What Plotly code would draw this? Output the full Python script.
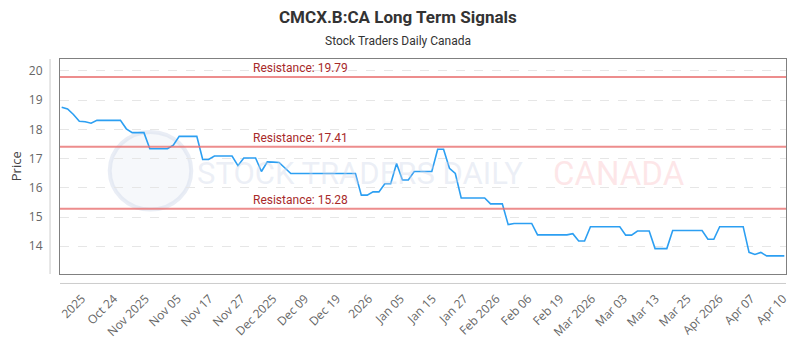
import plotly.graph_objects as go

# ---------------- data ----------------
prices = [
    18.76, 18.70, 18.51, 18.28, 18.26, 18.21,
    18.31, 18.31, 18.31, 18.31, 18.31,
    18.02, 17.89, 17.89, 17.89,
    17.34, 17.34, 17.34, 17.34, 17.46,
    17.76, 17.76, 17.76, 17.76,
    16.97, 16.97, 17.09, 17.09, 17.09, 17.09,
    16.76, 17.02, 17.02, 17.02, 16.56, 16.89, 16.88, 16.87, 16.68,
    16.49, 16.49, 16.49, 16.49, 16.49, 16.49, 16.49, 16.49, 16.49, 16.49, 16.49, 16.49,
    15.75, 15.75, 15.86, 15.86, 16.14, 16.14, 16.83, 16.27, 16.27,
    16.56, 16.56, 16.56, 16.56, 17.32, 17.32, 16.67, 16.49,
    15.65, 15.65, 15.65, 15.65, 15.65,
    15.45, 15.45, 15.45,
    14.74, 14.78, 14.78, 14.78, 14.78,
    14.39, 14.39, 14.39, 14.39, 14.39, 14.39,
    14.43, 14.18, 14.18,
    14.67, 14.67, 14.67, 14.67, 14.67, 14.67,
    14.38, 14.38, 14.52, 14.52, 14.52,
    13.92, 13.92, 13.92,
    14.54, 14.54, 14.54, 14.54, 14.54, 14.54,
    14.24, 14.24,
    14.67, 14.67, 14.67, 14.67, 14.67,
    13.79, 13.72, 13.79, 13.67, 13.67, 13.67, 13.67,
]
resistance_levels = [19.79, 17.41, 15.28]
tick_labels = [
    "2025", "Oct 24", "Nov 2025", "Nov 05", "Nov 17", "Nov 27", "Dec 2025",
    "Dec 09", "Dec 19", "2026", "Jan 05", "Jan 15", "Jan 27", "Feb 2026",
    "Feb 06", "Feb 19", "Mar 2026", "Mar 03", "Mar 13", "Mar 25",
    "Apr 2026", "Apr 07", "Apr 10",
]
y_ticks = [14, 15, 16, 17, 18, 19, 20]

# ---------------- layout helpers ----------------
W, H = 800, 350
L, R, T, B = 60, 10, 59, 64          # plot area 60..790 x 59..286
pw, ph = W - L - R, H - T - B
n = len(prices)
x_idx = list(range(n))


def px_x(px):
    return (px - L) / pw


def px_y(py):
    return ((H - B) - py) / ph


# x range so that point 0 sits at ~61.7px and last point at ~788px
px_per = (788.3 - 61.7) / (n - 1)
x0 = -(61.7 - L) / px_per
x1 = (n - 1) + (W - R - 788.3) / px_per

# evenly spaced tick positions (label positions in the reference)
first_px, step_px = 82.0, 32.05
tickvals = [((first_px + k * step_px) - 61.7) / px_per for k in range(len(tick_labels))]

fig = go.Figure()
fig.add_trace(go.Scatter(
    x=x_idx, y=prices, mode="lines",
    line=dict(color="#2c9ff2", width=1.6),
    hoverinfo="skip", showlegend=False,
))

shapes = []
annotations = []
for lv in resistance_levels:
    shapes.append(dict(type="line", xref="paper", yref="y", x0=0, x1=1, y0=lv, y1=lv,
                       line=dict(color="rgba(232,112,112,0.8)", width=2), layer="above"))
    annotations.append(dict(xref="paper", yref="y", x=px_x(252), y=lv,
                            xanchor="left", yanchor="bottom", yshift=0,
                            text=f"Resistance: {lv:.2f}", showarrow=False,
                            font=dict(family="Roboto", size=12, color="#a82a2a")))

# offset axis lines (light gray) outside the plot box
shapes.append(dict(type="line", xref="paper", yref="paper",
                   x0=px_x(50), x1=px_x(50), y0=0, y1=1,
                   line=dict(color="#cccccc", width=1)))
shapes.append(dict(type="line", xref="paper", yref="paper",
                   x0=0, x1=1, y0=px_y(296), y1=px_y(296),
                   line=dict(color="#cccccc", width=1)))

# watermark logo circle
cx, cy, r = 151, 177, 41
shapes.append(dict(type="circle", xref="paper", yref="paper", layer="below",
                   x0=px_x(cx - r), x1=px_x(cx + r),
                   y0=px_y(cy + r), y1=px_y(cy - r),
                   line=dict(color="rgba(215,222,236,0.55)", width=4),
                   fillcolor="rgba(236,240,247,0.45)"))

annotations.append(dict(xref="paper", yref="paper", x=px_x(362), y=px_y(180),
                        text="STOCK TRADERS DAILY", showarrow=False, xanchor="center", yanchor="middle",
                        font=dict(family="Roboto", size=31, color="rgba(205,214,232,0.38)")))
annotations.append(dict(xref="paper", yref="paper", x=px_x(622), y=px_y(180),
                        text="CANADA", showarrow=False, xanchor="center", yanchor="middle",
                        font=dict(family="Roboto", size=33, color="rgba(250,190,195,0.38)")))

# title / subtitle / y title
annotations.append(dict(xref="paper", yref="paper", x=px_x(400), y=px_y(15),
                        text="<b>CMCX.B:CA Long Term Signals</b>",
                        showarrow=False, xanchor="center", yanchor="middle",
                        font=dict(family="Roboto", size=17, color="#333333")))
annotations.append(dict(xref="paper", yref="paper", x=px_x(400), y=px_y(40),
                        text="Stock Traders Daily Canada",
                        showarrow=False, xanchor="center", yanchor="middle",
                        font=dict(family="Roboto", size=12, color="#333333")))
annotations.append(dict(xref="paper", yref="paper", x=px_x(15.5), y=0.5, text="Price",
                        showarrow=False, xanchor="center", yanchor="middle", textangle=-90,
                        font=dict(family="Open Sans", size=13, color="#444444")))

fig.update_layout(
    width=W, height=H,
    margin=dict(l=L, r=R, t=T, b=B),
    paper_bgcolor="white", plot_bgcolor="white",
    showlegend=False,
    shapes=shapes, annotations=annotations,
    xaxis=dict(range=[x0, x1], tickmode="array", tickvals=tickvals, ticktext=tick_labels,
               tickangle=-45, ticks="outside", ticklen=12, tickcolor="rgba(0,0,0,0)",
               showgrid=False, zeroline=False,
               showline=True, mirror=True, linecolor="#808080", linewidth=1,
               tickfont=dict(family="Open Sans", size=12, color="#666666")),
    yaxis=dict(range=[13.05, 20.41], tickmode="array", tickvals=y_ticks,
               ticks="outside", ticklen=14, tickcolor="rgba(0,0,0,0)",
               showgrid=True, gridcolor="#e6e6e6", griddash="dash", gridwidth=1,
               zeroline=False,
               showline=True, mirror=True, linecolor="#808080", linewidth=1,
               tickfont=dict(family="Open Sans", size=12, color="#666666")),
)

fig.write_html("out.html")
